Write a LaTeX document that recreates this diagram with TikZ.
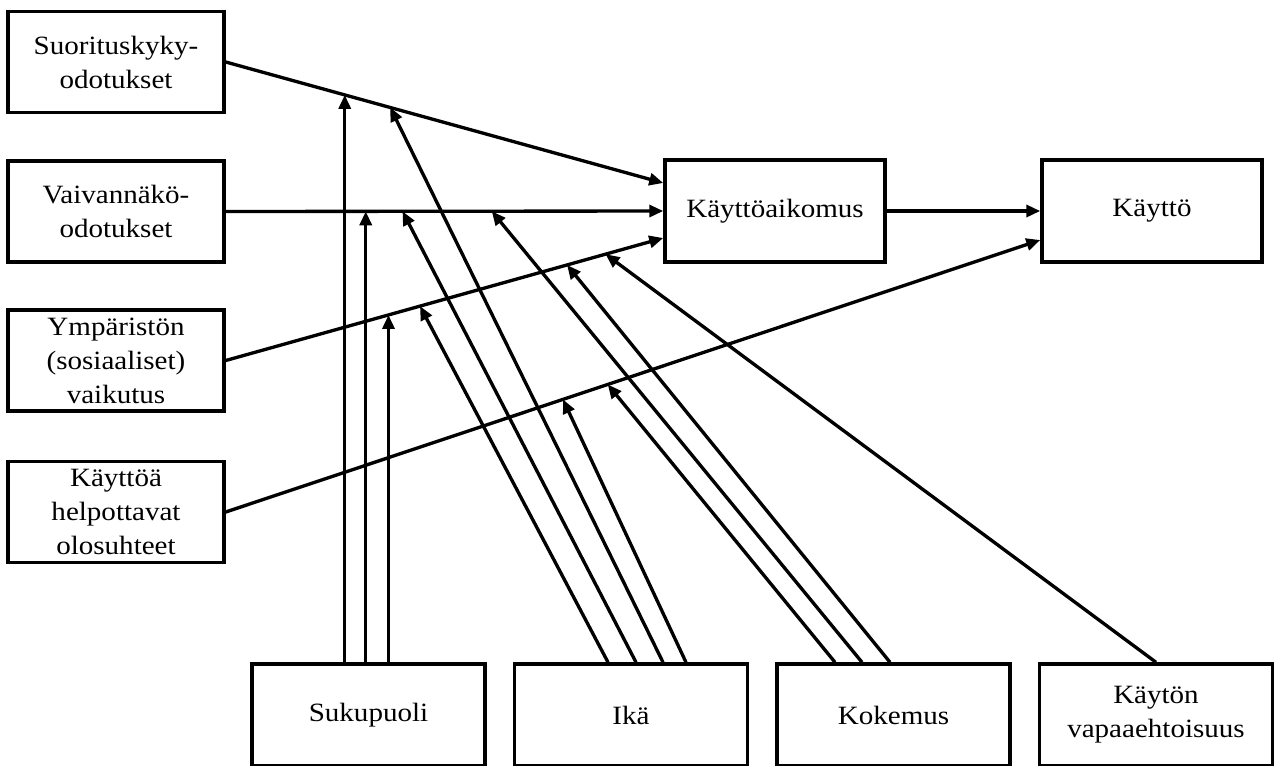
\documentclass[tikz,border=0pt]{standalone}
\usepackage{fontspec}
\setmainfont{Liberation Serif}[FakeStretch=1.1]
\usetikzlibrary{arrows.meta,calc}
\begin{document}
\begin{tikzpicture}[x=0.75pt,y=-0.75pt,
  box/.style={draw,line width=2.6pt,align=center,inner sep=0pt,font=\fontsize{19.8}{25.5}\selectfont},
  lbox/.style={box,minimum width=162pt,minimum height=75.75pt},
  mbox/.style={box,minimum width=165pt,minimum height=76.5pt},
  bbox/.style={box,minimum width=174.75pt,minimum height=76.5pt},
  conn/.style={line width=2.5pt,-{Triangle[length=10.5pt,width=9pt]}}
]
\useasboundingbox (0,0) rectangle (1278,765);
% left column
\node[lbox] (so) at (116,62) {Suorituskyky-\\odotukset};
\node[lbox] (va) at (116,211.5) {Vaivannäkö-\\odotukset};
\node[lbox] (ym) at (116,360.5) {Ympäristön\\(sosiaaliset)\\vaikutus};
\node[lbox] (kh) at (116,512) {Käyttöä\\helpottavat\\olosuhteet};
% middle / right
\node[mbox] (ka) at (775,211) {Käyttöaikomus};
\node[mbox] (ko) at (1152,211) {Käyttö};
% bottom row
\node[bbox] (su) at (368.5,715) {Sukupuoli};
\node[bbox] (ik) at (631,715) {Ikä};
\node[bbox] (ke) at (893.5,715) {Kokemus};
\node[bbox] (vp) at (1156,715) {Käytön\\vapaaehtoisuus};
% main connectors
\coordinate (ka1) at ($(ka.west)+(0,-28)$);
\coordinate (ka3) at ($(ka.west)+(0,27)$);
\coordinate (ko4) at ($(ko.west)+(0,29)$);
\draw[conn] (so.east) -- (ka1) coordinate[pos=.272] (p1a) coordinate[pos=.376] (p1b);
\draw[conn] (va.east) -- (ka.west) coordinate[pos=.320] (p2a) coordinate[pos=.404] (p2b) coordinate[pos=.608] (p2c);
\draw[conn] (ym.east) -- (ka3) coordinate[pos=.372] (p3a) coordinate[pos=.444] (p3b) coordinate[pos=.780] (p3c) coordinate[pos=.868] (p3d);
\draw[conn] (kh.east) -- (ko4) coordinate[pos=.414] (p4a) coordinate[pos=.469] (p4b);
\draw[conn] (ka.east) -- (ko.west);
% Sukupuoli
\draw[conn] (p1a |- su.north) -- (p1a);
\draw[conn] (p2a |- su.north) -- (p2a);
\draw[conn] (p3a |- su.north) -- (p3a);
% Ika
\draw[conn] ($(ik.north)+(-23,0)$) -- (p3b);
\draw[conn] ($(ik.north)+(5,0)$) -- (p2b);
\draw[conn] ($(ik.north)+(32,0)$) -- (p1b);
\draw[conn] ($(ik.north)+(55,0)$) -- (p4a);
% Kokemus
\draw[conn] ($(ke.north)+(-58.5,0)$) -- (p4b);
\draw[conn] ($(ke.north)+(-31.5,0)$) -- (p2c);
\draw[conn] ($(ke.north)+(-3.5,0)$) -- (p3c);
% Vapaaehtoisuus
\draw[conn] (vp.north) -- (p3d);
\end{tikzpicture}
\end{document}
